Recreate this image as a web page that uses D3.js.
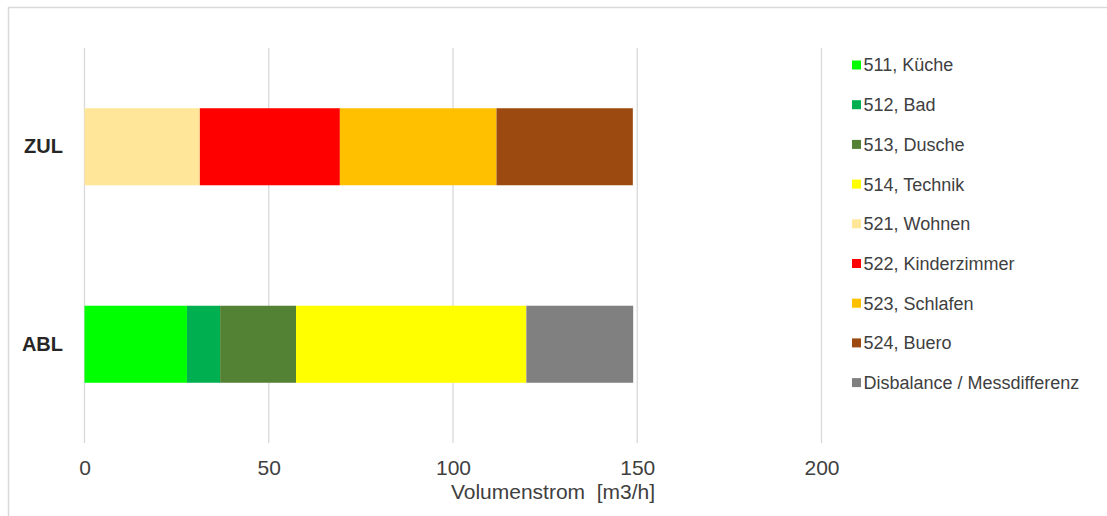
<!DOCTYPE html>
<html><head><meta charset="utf-8">
<script src="https://cdn.jsdelivr.net/npm/d3@7"></script>
<style>body{margin:0;background:#fff;} text{font-family:"Liberation Sans",Arial,sans-serif;}</style>
</head><body>
<svg id="c" width="1107" height="516"></svg>
<script>
const categories = ["ZUL", "ABL"];
const seriesNames = ["511, Küche","512, Bad","513, Dusche","514, Technik","521, Wohnen","522, Kinderzimmer","523, Schlafen","524, Buero","Disbalance / Messdifferenz"];
const seriesColors = ["#00ff00","#00b050","#548235","#ffff00","#ffe699","#ff0000","#ffc000","#9c4a0f","#808080"];
// values per series: [ZUL, ABL]
const kueche = [0, 27.8];
const bad = [0, 9.0];
const dusche = [0, 20.6];
const technik = [0, 62.5];
const wohnen = [31.3, 0];
const kinderzimmer = [38.0, 0];
const schlafen = [42.5, 0];
const buero = [37.0, 0];
const disbalance = [0, 29.0];
const tickValues = [0, 50, 100, 150, 200];
const xTitle = "Volumenstrom\u00a0 [m3/h]";

const series = [kueche,bad,dusche,technik,wohnen,kinderzimmer,schlafen,buero,disbalance];
const data = categories.map((c,i)=>{const o={cat:c}; seriesNames.forEach((s,j)=>o[s]=series[j][i]); return o;});
const stacked = d3.stack().keys(seriesNames)(data);

const svg = d3.select("#c");
svg.append("rect").attr("x",8.5).attr("y",7.5).attr("width",1110).attr("height",520)
  .attr("fill","#fff").attr("stroke","#d9d9d9").attr("stroke-width",1.5);

const x = d3.scaleLinear().domain([0,200]).range([84.5,821.5]);
const y = d3.scaleBand().domain(categories).range([48,443]).paddingInner(0.61).paddingOuter(0.305);

// gridlines
svg.append("g").selectAll("line").data(tickValues).join("line")
  .attr("x1",d=>x(d)).attr("x2",d=>x(d)).attr("y1",48).attr("y2",443)
  .attr("stroke","#d9d9d9").attr("stroke-width",1.3);

// bars
svg.append("g").selectAll("g").data(stacked).join("g")
  .attr("fill",(d,i)=>seriesColors[i])
  .selectAll("rect").data(d=>d).join("rect")
  .attr("x",d=>x(d[0])).attr("width",d=>x(d[1])-x(d[0]))
  .attr("y",d=>y(d.data.cat)).attr("height",y.bandwidth());

// x axis labels
const xa = svg.append("g").attr("transform","translate(0,443)")
  .call(d3.axisBottom(x).tickValues(tickValues).tickSize(0).tickPadding(17));
xa.select(".domain").remove();
xa.selectAll("text").attr("font-size",21).attr("fill","#404040").attr("font-family","Liberation Sans, Arial, sans-serif");

svg.append("text").attr("x",553).attr("y",499).attr("text-anchor","middle")
  .attr("font-size",21).attr("fill","#404040").text(xTitle);

// y axis labels
const ya = svg.append("g").attr("transform","translate(63,0)")
  .call(d3.axisLeft(y).tickSize(0).tickPadding(0));
ya.select(".domain").remove();
ya.selectAll("text").attr("font-size",20).attr("font-weight","bold").attr("fill","#262626")
  .attr("font-family","Liberation Sans, Arial, sans-serif");

// legend
const lg = svg.append("g").selectAll("g").data(seriesNames).join("g")
  .attr("transform",(d,i)=>`translate(852,${65+i*39.7})`);
lg.append("rect").attr("x",0).attr("y",-4.5).attr("width",9).attr("height",9).attr("fill",(d,i)=>seriesColors[i]);
lg.append("text").attr("x",11.5).attr("y",0).attr("dy","0.36em").attr("font-size",18).attr("fill","#404040").text(d=>d);
</script>
</body></html>
